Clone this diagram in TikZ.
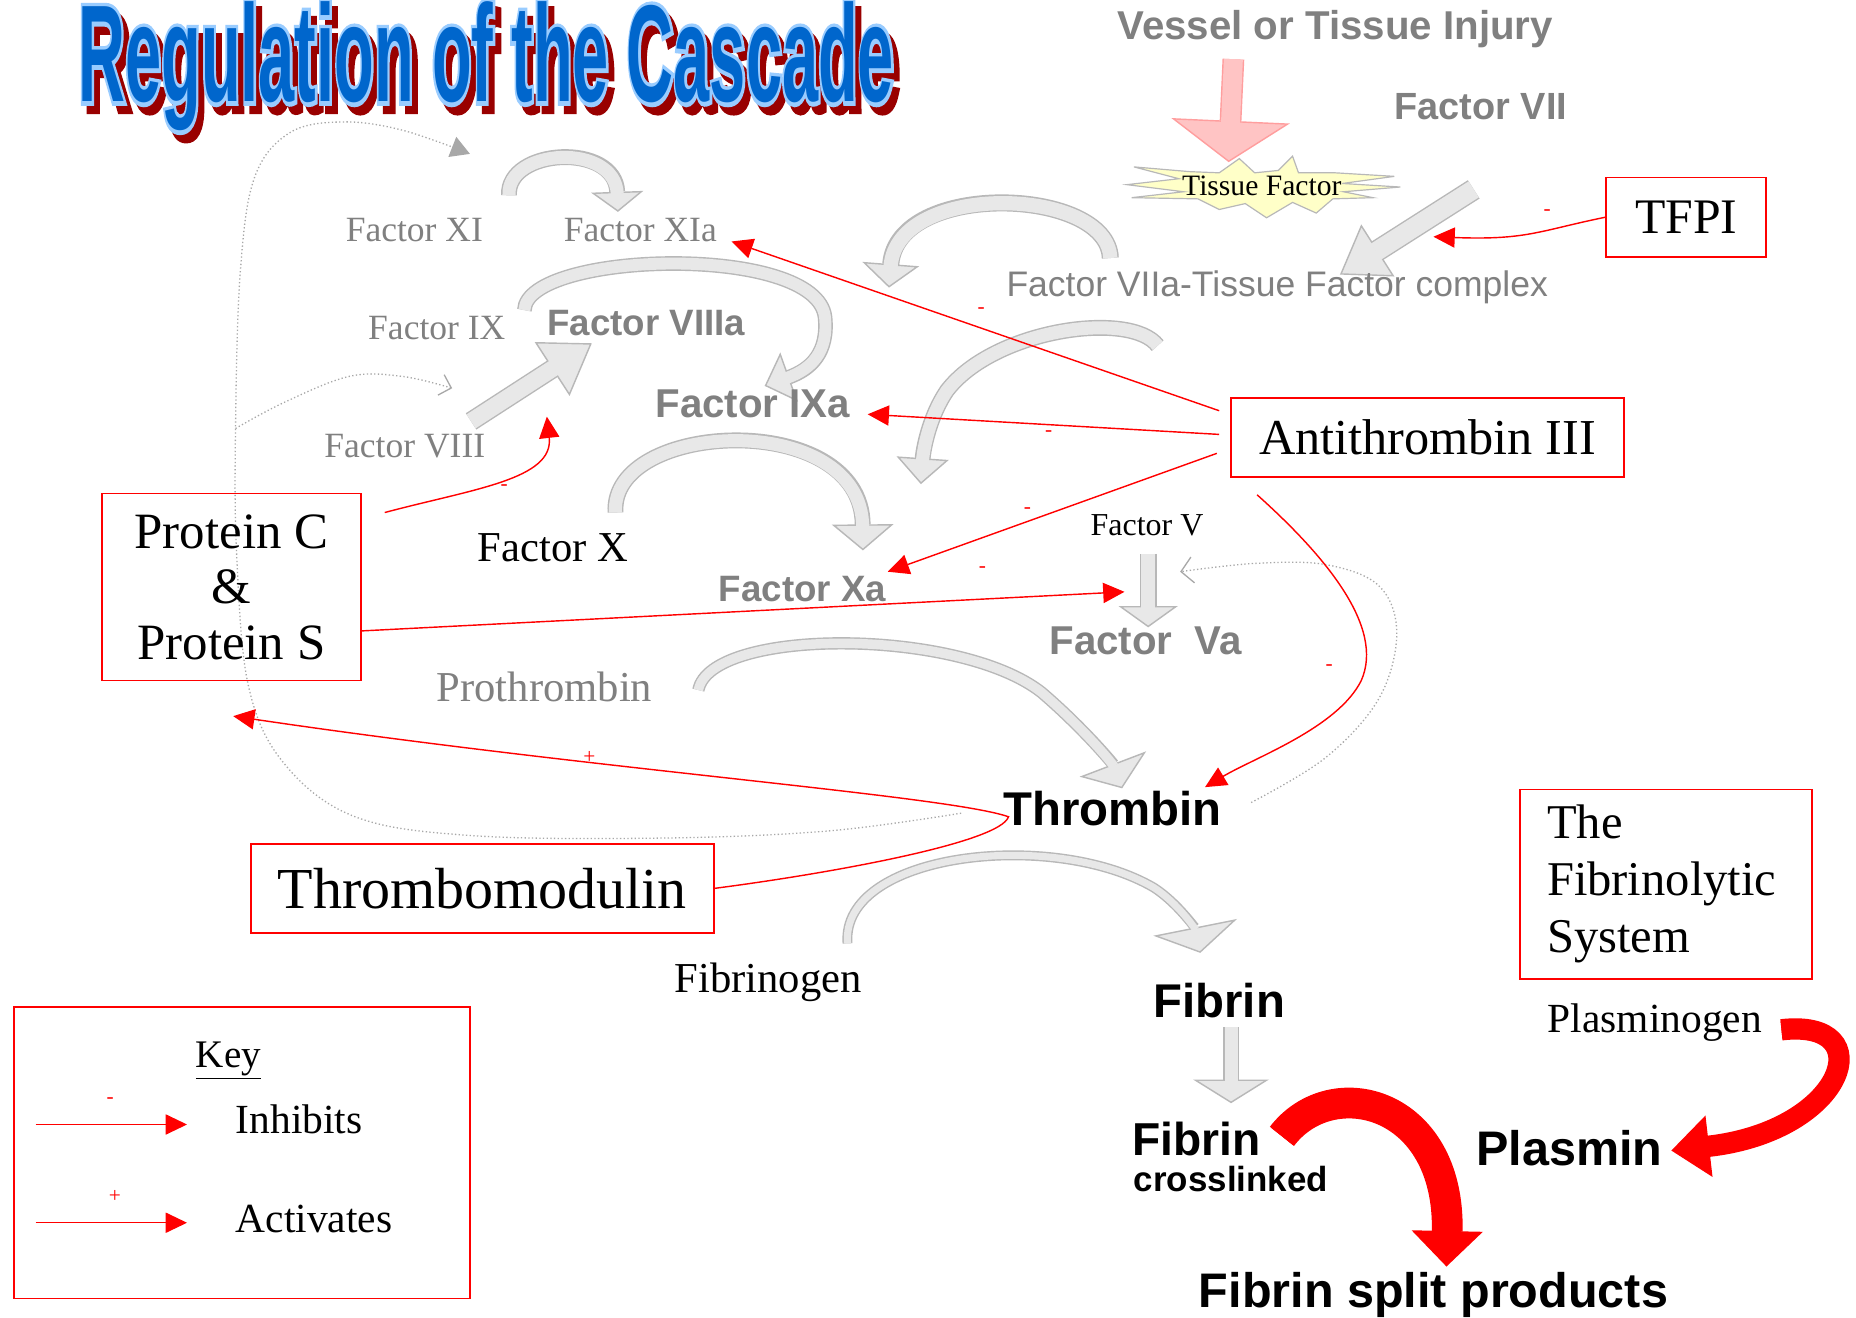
\documentclass[tikz,border=0pt]{standalone}
\usepackage{fontspec}
\usepackage{graphicx}
\setmainfont{Liberation Serif}
\newfontfamily\sfr{Liberation Sans}
\newfontfamily\ttlfill{Liberation Sans}
\newfontfamily\ttlout{Liberation Sans}[BoldFeatures={FakeBold=6}]
\usetikzlibrary{arrows.meta}
\newcommand\fsz[1]{\fontsize{#1}{#1}\selectfont}
\definecolor{gfill}{HTML}{E8E8E8}
\definecolor{gborder}{HTML}{B8B8B8}
\definecolor{txtgray}{HTML}{808080}
\definecolor{dotgray}{HTML}{A8A8A8}
\definecolor{pinkf}{HTML}{FFC4C4}
\definecolor{pinkb}{HTML}{FF9E9E}
\definecolor{tblue}{HTML}{0066CC}
\definecolor{tlight}{HTML}{99CCFF}
\definecolor{tred}{HTML}{990000}
\definecolor{staryel}{HTML}{FFFFC8}
% #1 border, #2 fill, #3 shaft width, #4 head width, #5 head length, #6 inner shorten, #7 path
\newcommand\blockarrow[7]{%
 \draw[#1, line width=#3, -{Triangle[length=#5, width=#4, line width=1.2pt, fill=#2]}] #7;
 \draw[#2, line width=#3-2.4pt, shorten >=#6] #7;}
\begin{document}
\begin{tikzpicture}[x=1pt,y=-1pt,
  lbl/.style={inner sep=0pt, anchor=center},
  gtxt/.style={lbl, text=txtgray},
  redbox/.style={draw=red, line width=1.4pt, inner sep=0pt},
  inh/.style={red, line width=1.2pt, -{Triangle[length=18pt,width=17pt]}},
  sign/.style={text=red, inner sep=0pt, font=\fsz{18}},
  dots/.style={draw=dotgray, line width=1.1pt, dotted}]
\useasboundingbox[fill=white] (0,0) rectangle (1568,1113);

% ---------- title ----------
\node[lbl, anchor=base west, text=tred] (titleshadow) at (71,93) {\scalebox{0.49}[1.04]{\ttlout\bfseries\fsz{112}Regulation of the Cascade}};
\node[lbl, anchor=base west, text=tlight] (titleoutline) at (66,86) {\scalebox{0.49}[1.04]{\ttlout\bfseries\fsz{112}Regulation of the Cascade}};
\node[lbl, anchor=base west, text=tblue] (title) at (66,86) {\scalebox{0.49}[1.04]{\ttlfill\bfseries\fsz{112}Regulation of the Cascade}};

% ---------- dotted feedback lines ----------
\draw[dots, -{Triangle[length=16pt,width=18pt]}] plot[smooth, tension=0.6] coordinates {(812,687) (700,702) (560,708) (400,706) (300,690) (240,645) (210,580) (200,470) (199,360) (203,230) (215,150) (245,112) (290,103) (340,110) (397,130)};
\draw[dots, -{Straight Barb[length=9pt,width=18pt]}] plot[smooth, tension=0.6] coordinates {(199,362) (240,340) (295,318) (340,318) (382,328)};
\draw[dots, -{Straight Barb[length=10pt,width=22pt]}] plot[smooth, tension=0.6] coordinates {(1057,678) (1120,640) (1165,590) (1180,535) (1165,495) (1120,477) (1060,476) (997,483)};

% ---------- gray block arrows ----------
\blockarrow{gborder}{gfill}{13.4pt}{44pt}{17pt}{15pt}{(430,165) .. controls (428,125) and (520,120) .. (522,179)}
\blockarrow{gborder}{gfill}{12.4pt}{44pt}{22pt}{20pt}{(443,262) .. controls (445,212) and (690,205) .. (697,268) .. controls (700,298) and (685,312) .. (646,326)}
\blockarrow{gborder}{gfill}{16.4pt}{54pt}{40pt}{38pt}{(398,356) -- (500,290)}
\blockarrow{gborder}{gfill}{14.4pt}{48pt}{20pt}{18pt}{(938,218) .. controls (936,158) and (758,152) .. (751,243)}
\blockarrow{gborder}{gfill}{13.4pt}{44pt}{22pt}{20pt}{(978,292) .. controls (955,262) and (840,278) .. (800,330) .. controls (785,352) and (780,380) .. (778,409)}
\blockarrow{gborder}{gfill}{13.4pt}{52pt}{22pt}{20pt}{(520,433) .. controls (515,355) and (728,345) .. (729,465)}
\blockarrow{gborder}{gfill}{10.4pt}{60pt}{22pt}{20pt}{(590,583) .. controls (600,530) and (810,530) .. (880,585) .. controls (915,615) and (940,645) .. (948,666)}
\blockarrow{gborder}{gfill}{8.4pt}{72pt}{22pt}{20pt}{(716,797) .. controls (710,720) and (890,700) .. (975,750) .. controls (995,763) and (1010,785) .. (1014,805)}
\blockarrow{gborder}{gfill}{14.4pt}{50pt}{18pt}{16pt}{(970,468) -- (970,530)}
\blockarrow{gborder}{gfill}{13.4pt}{64pt}{20pt}{18pt}{(1040,868) -- (1040,932)}
\blockarrow{gborder}{gfill}{18.4pt}{52pt}{38pt}{36pt}{(1245,160) -- (1132,232)}
\blockarrow{pinkb}{pinkf}{18.4pt}{100pt}{35pt}{33pt}{(1042,50) -- (1038,137)}

% ---------- red block arrows (fibrinolysis) ----------
\blockarrow{red}{red}{26pt}{60pt}{30pt}{28pt}{(1083,960) .. controls (1125,905) and (1225,930) .. (1222,1070)}
\blockarrow{red}{red}{18pt}{52pt}{32pt}{30pt}{(1505,870) .. controls (1590,860) and (1560,955) .. (1412,972)}

% ---------- tissue factor starburst ----------
\filldraw[fill=staryel, draw=gborder, line width=1pt] (952,156) -- (996,151) -- (958,141) -- (1005,145) -- (1030,146) -- (1047,134) -- (1060,146) -- (1080,144) -- (1092,132) -- (1097,146) -- (1128,146) -- (1178,149) -- (1134,155) -- (1183,158) -- (1135,162) -- (1160,167) -- (1126,168) -- (1112,180) -- (1092,171) -- (1070,184) -- (1052,172) -- (1030,177) -- (1012,168) -- (956,167) -- (1000,162) -- cycle;

% ---------- text labels ----------
\node[gtxt, font=\sfr\bfseries\fsz{34}] (injury) at (1128,25) {Vessel or Tissue Injury};
\node[gtxt, font=\sfr\bfseries\fsz{32}] (f7) at (1251,90) {Factor VII};
\node[lbl, font=\fsz{25}] (tf) at (1066,157) {Tissue Factor};
\node[redbox, minimum width=135, minimum height=67] (tfpi) at (1424.5,183.5) {\fsz{42}TFPI};
\node[gtxt, font=\sfr\fsz{30}] (f7tf) at (1079,243) {Factor VIIa-Tissue Factor complex};
\node[gtxt, font=\fsz{30}] (f11) at (350,194) {Factor XI};
\node[gtxt, font=\fsz{30}] (f11a) at (541,194) {Factor XIa};
\node[gtxt, font=\fsz{30}] (f9) at (369,277) {Factor IX};
\node[gtxt, font=\sfr\bfseries\fsz{31}] (f8a) at (546,273) {Factor VIIIa};
\node[gtxt, font=\fsz{30}] (f8) at (342,377) {Factor VIII};
\node[gtxt, font=\sfr\bfseries\fsz{34}] (f9a) at (636,341) {Factor IXa};
\node[redbox, minimum width=332, minimum height=67] (at3) at (1206,369.5) {\fsz{42.5}Antithrombin III};
\node[redbox, minimum width=219, minimum height=158, align=center, font={\fontsize{43}{47}\selectfont}] (pcs) at (195.5,496) {Protein C\\\&\\Protein S};
\node[lbl, font=\fsz{36}] (f10) at (467,463) {Factor X};
\node[lbl, font=\fsz{27}] (f5) at (969,444) {Factor V};
\node[gtxt, font=\sfr\bfseries\fsz{31}] (f10a) at (678,498) {Factor Xa};
\node[gtxt, font=\sfr\bfseries\fsz{34}] (f5a) at (968,541) {Factor\ \ Va};
\node[gtxt, font=\fsz{36}] (proth) at (460,580) {Prothrombin};
\node[lbl, font=\sfr\bfseries\fsz{40}] (thr) at (940,683) {Thrombin};
\node[redbox, minimum width=391, minimum height=75] (tm) at (407.5,750.5) {\fsz{49}Thrombomodulin};
\node[lbl, font=\fsz{36}] (fgen) at (649,830) {Fibrinogen};
\node[lbl, font=\sfr\bfseries\fsz{40}] (fib) at (1030,845) {Fibrin};
\node[lbl, font=\sfr\bfseries\fsz{39}] (fibx) at (1011,962) {Fibrin};
\node[lbl, font=\sfr\bfseries\fsz{29.5}] (xl) at (1040,996) {crosslinked};
\node[lbl, font=\sfr\bfseries\fsz{41}] (fsp) at (1211,1094) {Fibrin split products};
\node[lbl, font=\sfr\bfseries\fsz{41}] (plasmin) at (1326,970) {Plasmin};
\node[lbl, font=\fsz{35}] (pgen) at (1398,864) {Plasminogen};
\node[redbox, minimum width=247, minimum height=160, text width=201, inner xsep=23, align=left, font={\fontsize{41}{48}\selectfont}] (fsys) at (1407.5,747) {The\\Fibrinolytic\\System};

% ---------- key ----------
\node[redbox, minimum width=385, minimum height=246] (key) at (204.5,974) {};
\node[lbl, font=\fsz{33}] (keyt) at (193,896) {\underline{Key}};
\node[lbl, anchor=west, font=\fsz{35}] (inhib) at (199,946) {Inhibits};
\node[lbl, anchor=west, font=\fsz{35}] (activ) at (199,1030) {Activates};
\coordinate (k1a) at (30,950); \coordinate (k1b) at (158,950);
\coordinate (k2a) at (30,1033); \coordinate (k2b) at (158,1033);
\draw[inh] (k1a) -- (k1b);
\draw[inh] (k2a) -- (k2b);
\node[sign] (ks1) at (93,930) {-};
\node[sign] (ks2) at (97,1011) {+};

% ---------- red regulation connectors ----------
\coordinate (a1s) at (1030,347); \coordinate (a1e) at (618,204);
\coordinate (a2s) at (1030,367); \coordinate (a2e) at (733,350);
\coordinate (a3s) at (1028,383); \coordinate (a3e) at (750,483);
\coordinate (a4s) at (1062,418); \coordinate (a4e) at (1018,665);
\coordinate (tfpie) at (1211,200);
\coordinate (pc1s) at (325,433); \coordinate (pc1e) at (462,352);
\coordinate (pc2e) at (950,500);
\coordinate (tmk) at (852,690); \coordinate (tme) at (197,605);
\draw[inh] (a1s) -- (a1e);
\draw[inh] (a2s) -- (a2e);
\draw[inh] (a3s) -- (a3e);
\draw[inh] (a4s) .. controls (1120,470) and (1170,530) .. (1150,575) .. controls (1130,615) and (1060,640) .. (a4e);
\draw[inh] (tfpi.west) .. controls (1300,195) and (1290,203) .. (tfpie);
\draw[inh] (pc1s) .. controls (400,413) and (468,405) .. (pc1e);
\draw[inh] (pcs.east |- 0,533) -- (pc2e);
\draw[inh] (tm.east) .. controls (700,738) and (845,712) .. (tmk) .. controls (800,672) and (500,650) .. (tme);
\node[sign] (s1) at (829,262) {-};
\node[sign] (s2) at (886,366) {-};
\node[sign] (s3) at (868,431) {-};
\node[sign] (s4) at (830,481) {-};
\node[sign] (s5) at (1123,564) {-};
\node[sign] (s6) at (1307,180) {-};
\node[sign] (s7) at (426,412) {-};
\node[sign] (s8) at (498,640) {+};
\end{tikzpicture}
\end{document}
